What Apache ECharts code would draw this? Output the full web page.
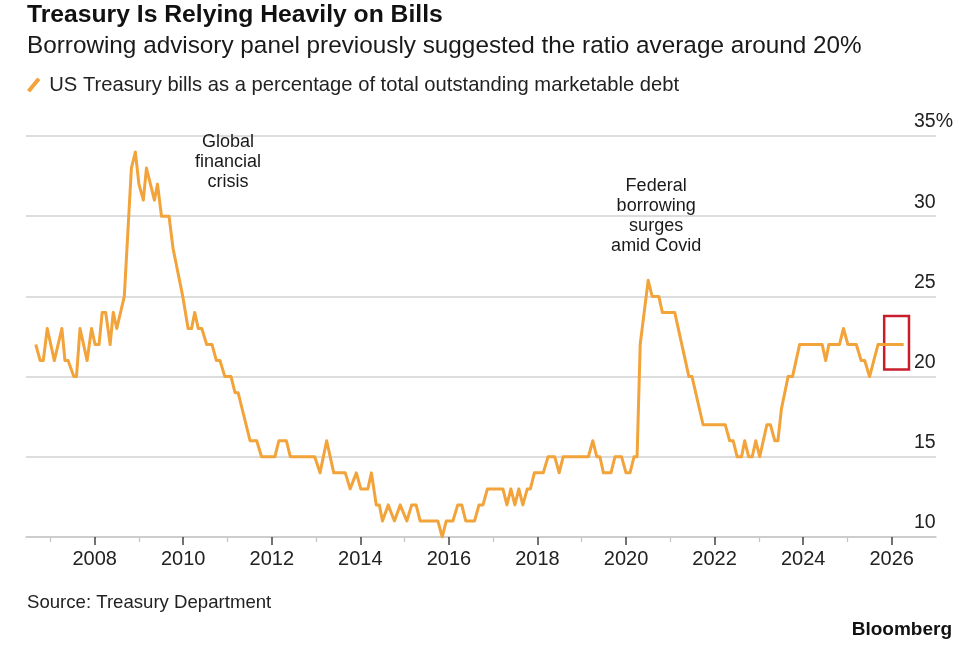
<!DOCTYPE html>
<html lang="en">
<head>
<meta charset="UTF-8">
<title>Treasury Is Relying Heavily on Bills</title>
<script src="https://cdn.jsdelivr.net/npm/echarts@6.0.0/dist/echarts.min.js"></script>
<style>
  html, body { margin: 0; background: #fff; }
  #main { width: 962px; height: 648px; }
</style>
</head>
<body>
<div id="main"></div>
<script>
// turning points of the line (decimal year, % of debt)
var dates = [
  2006.67, 2006.77, 2006.84, 2006.93, 2007.09, 2007.26, 2007.33, 2007.40, 2007.53, 2007.59,
  2007.67, 2007.83, 2007.93, 2008.01, 2008.10, 2008.17, 2008.25, 2008.35, 2008.42, 2008.50,
  2008.67, 2008.83, 2008.92, 2009.00, 2009.10, 2009.17, 2009.35, 2009.42, 2009.51, 2009.68,
  2009.77, 2009.99, 2010.11, 2010.19, 2010.26, 2010.34, 2010.42, 2010.53, 2010.65, 2010.75,
  2010.83, 2010.94, 2011.08, 2011.17, 2011.24, 2011.51, 2011.66, 2011.77, 2012.07, 2012.16,
  2012.33, 2012.42, 2012.97, 2013.09, 2013.24, 2013.40, 2013.66, 2013.77, 2013.91, 2014.01,
  2014.17, 2014.25, 2014.36, 2014.43, 2014.50, 2014.63, 2014.77, 2014.90, 2015.05, 2015.16,
  2015.26, 2015.35, 2015.75, 2015.85, 2015.94, 2016.09, 2016.20, 2016.29, 2016.38, 2016.58,
  2016.68, 2016.77, 2016.87, 2017.22, 2017.31, 2017.40, 2017.49, 2017.58, 2017.67, 2017.77,
  2017.84, 2017.93, 2018.13, 2018.24, 2018.39, 2018.49, 2018.58, 2019.15, 2019.25, 2019.34,
  2019.41, 2019.49, 2019.66, 2019.75, 2019.90, 2020.00, 2020.09, 2020.18, 2020.25, 2020.32,
  2020.50, 2020.59, 2020.74, 2020.82, 2021.10, 2021.42, 2021.49, 2021.74, 2022.24, 2022.34,
  2022.42, 2022.51, 2022.61, 2022.68, 2022.77, 2022.85, 2022.93, 2023.02, 2023.18, 2023.26,
  2023.36, 2023.43, 2023.51, 2023.66, 2023.76, 2023.92, 2024.43, 2024.51, 2024.58, 2024.82,
  2024.91, 2025.01, 2025.20, 2025.31, 2025.39, 2025.50, 2025.69, 2026.27
];
var billShare = [
  22, 21, 21, 23, 21, 23, 21, 21, 20, 20,
  23, 21, 23, 22, 22, 24, 24, 22, 24, 23,
  25, 33, 34, 32, 31, 33, 31, 32, 30, 30,
  28, 25, 23, 23, 24, 23, 23, 22, 22, 21,
  21, 20, 20, 19, 19, 16, 16, 15, 15, 16,
  16, 15, 15, 14, 16, 14, 14, 13, 14, 13,
  13, 14, 12, 12, 11, 12, 11, 12, 11, 12,
  12, 11, 11, 10, 11, 11, 12, 12, 11, 11,
  12, 12, 13, 13, 12, 13, 12, 13, 12, 13,
  13, 14, 14, 15, 15, 14, 15, 15, 16, 15,
  15, 14, 14, 15, 15, 14, 14, 15, 15, 22,
  26, 25, 25, 24, 24, 20, 20, 17, 17, 16,
  16, 15, 15, 16, 15, 15, 16, 15, 17, 17,
  16, 16, 18, 20, 20, 22, 22, 21, 22, 22,
  23, 22, 22, 21, 21, 20, 22, 22
];
var labelYears = [2008, 2010, 2012, 2014, 2016, 2018, 2020, 2022, 2024, 2026];
var minorYears = [2007, 2009, 2011, 2013, 2015, 2017, 2019, 2021, 2023, 2025];

var FONT = '"Liberation Sans", Arial, sans-serif';
var LINE = '#f2a33a';
var seriesName = 'US Treasury bills as a percentage of total outstanding marketable debt';

var points = [];
for (var i = 0; i < dates.length; i++) {
  points.push([dates[i], billShare[i]]);
}

var myChart = echarts.init(document.getElementById('main'), null, { renderer: 'canvas' });

myChart.setOption({
  animation: false,
  backgroundColor: '#fff',
  textStyle: { fontFamily: FONT },
  title: [
    {
      text: 'Treasury Is Relying Heavily on Bills',
      left: 27, top: 3, padding: 0,
      textStyle: { fontSize: 24.7, fontWeight: 'bold', color: '#111', fontFamily: FONT }
    },
    {
      text: 'Borrowing advisory panel previously suggested the ratio average around 20%',
      left: 27, top: 34, padding: 0,
      textStyle: { fontSize: 24.3, fontWeight: 'normal', color: '#1a1a1a', fontFamily: FONT }
    },
    {
      text: 'Source: Treasury Department',
      left: 27, top: 593, padding: 0,
      textStyle: { fontSize: 18.6, fontWeight: 'normal', color: '#222', fontFamily: FONT }
    },
    {
      text: 'Bloomberg',
      right: 10, top: 620, padding: 0,
      textStyle: { fontSize: 19, fontWeight: 'bold', color: '#111', fontFamily: FONT }
    }
  ],
  legend: {
    left: 27, top: 75, padding: 0,
    itemWidth: 15, itemHeight: 15, itemGap: 6,
    icon: 'path://M1,13 L11,1 L14,3.5 L4,15.5 Z',
    textStyle: { fontSize: 20.2, color: '#222', fontFamily: FONT, padding: [0, 0, 0, 3] },
    data: [seriesName]
  },
  grid: { left: 26, right: 26, top: 136, bottom: 111, outerBoundsMode: 'none' },
  xAxis: [
    {
      type: 'value',
      min: 2006.45, max: 2027.0,
      axisLine: { show: true, lineStyle: { color: '#c8c8c8', width: 1.5 } },
      axisTick: { show: true, customValues: labelYears, length: 8, lineStyle: { color: '#444', width: 1.5 } },
      axisLabel: {
        show: true, customValues: labelYears, margin: 12,
        fontSize: 20, color: '#222', fontFamily: FONT,
        formatter: function (v) { return String(v); }
      },
      splitLine: { show: false }
    },
    {
      type: 'value',
      position: 'bottom',
      min: 2006.45, max: 2027.0,
      axisLine: { show: false },
      axisTick: { show: true, customValues: minorYears, length: 5, lineStyle: { color: '#c4c4c4', width: 1.2 } },
      axisLabel: { show: false },
      splitLine: { show: false }
    }
  ],
  yAxis: {
    type: 'value',
    position: 'right',
    min: 10, max: 35, interval: 5,
    axisLine: { show: false },
    axisTick: { show: false },
    axisLabel: {
      margin: -22, align: 'left', verticalAlign: 'bottom',
      padding: [0, 0, 4, 0],
      fontSize: 19.5, color: '#222', fontFamily: FONT,
      formatter: function (v) { return v === 35 ? '35%' : String(v); }
    },
    splitLine: { show: true, lineStyle: { color: '#d2d2d2', width: 1.5 } }
  },
  series: [
    {
      name: seriesName,
      type: 'line',
      xAxisIndex: 0,
      data: points,
      showSymbol: false,
      smooth: false,
      color: LINE,
      itemStyle: { color: LINE },
      lineStyle: { color: LINE, width: 3, join: 'round' },
      markPoint: {
        symbol: 'circle', symbolSize: 0,
        label: {
          show: true, position: 'inside', align: 'center',
          fontSize: 18, lineHeight: 20, color: '#1a1a1a', fontFamily: FONT
        },
        data: [
          { coord: [2011.01, 33.4], value: 'Global\nfinancial\ncrisis',
            label: { formatter: 'Global\nfinancial\ncrisis' } },
          { coord: [2020.68, 30.0], value: 'Federal\nborrowing\nsurges\namid Covid',
            label: { formatter: 'Federal\nborrowing\nsurges\namid Covid' } }
        ]
      },
      markArea: {
        silent: true,
        itemStyle: { color: 'rgba(0,0,0,0)', borderColor: '#c81e2c', borderWidth: 2.5 },
        data: [[{ coord: [2025.83, 23.78] }, { coord: [2026.39, 20.45] }]]
      }
    }
  ]
});
</script>
</body>
</html>
